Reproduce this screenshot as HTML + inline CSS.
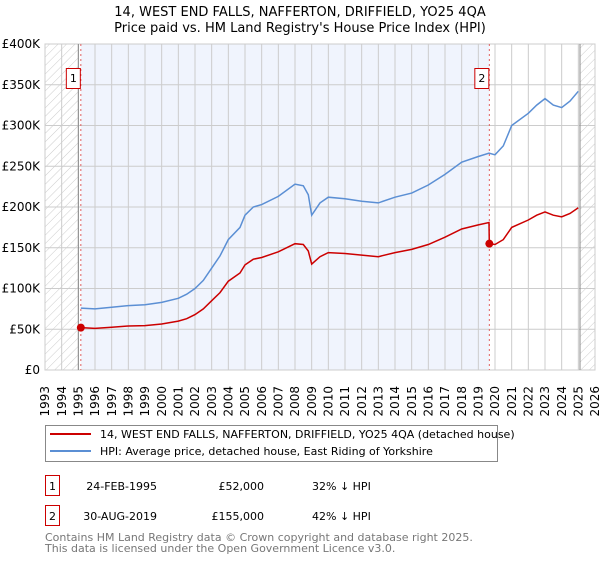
<!DOCTYPE html>
<html><head><meta charset="utf-8"><style>
body{margin:0;background:#fff;font-family:"DejaVu Sans","Liberation Sans",sans-serif;}
svg text{font-family:"DejaVu Sans","Liberation Sans",sans-serif;}
</style></head><body>
<svg id="chart" width="600" height="560" xmlns="http://www.w3.org/2000/svg">
<defs>
<pattern id="hatch" width="6" height="6" patternUnits="userSpaceOnUse" patternTransform="rotate(45)">
<line x1="0" y1="0" x2="0" y2="6" stroke="#ccc" stroke-width="1"/>
</pattern>
</defs>
<text x="300" y="16" text-anchor="middle" font-size="13" fill="#000">14, WEST END FALLS, NAFFERTON, DRIFFIELD, YO25 4QA</text>
<text x="300" y="32" text-anchor="middle" font-size="13" fill="#000">Price paid vs. HM Land Registry's House Price Index (HPI)</text>
<g id="plot"></g>
<g>
<rect x="45.5" y="425.5" width="452" height="36" fill="#fff" stroke="#888"/>
<line x1="50" y1="434" x2="91" y2="434" stroke="#cc0000" stroke-width="2"/>
<text x="100" y="438" font-size="11">14, WEST END FALLS, NAFFERTON, DRIFFIELD, YO25 4QA (detached house)</text>
<line x1="50" y1="451" x2="91" y2="451" stroke="#5b8fd4" stroke-width="2"/>
<text x="100" y="455" font-size="11">HPI: Average price, detached house, East Riding of Yorkshire</text>
</g>
<g font-size="11">
<rect x="45.5" y="475.5" width="14" height="20" fill="#fff" stroke="#cc0000"/>
<text x="52.5" y="490" text-anchor="middle">1</text>
<text x="157" y="490" text-anchor="end">24-FEB-1995</text>
<text x="264" y="490" text-anchor="end">£52,000</text>
<text x="312" y="490">32% ↓ HPI</text>
<rect x="45.5" y="505.5" width="14" height="20" fill="#fff" stroke="#cc0000"/>
<text x="52.5" y="520" text-anchor="middle">2</text>
<text x="157" y="520" text-anchor="end">30-AUG-2019</text>
<text x="264" y="520" text-anchor="end">£155,000</text>
<text x="312" y="520">42% ↓ HPI</text>
</g>
<text x="45" y="541" font-size="11" fill="#777">Contains HM Land Registry data © Crown copyright and database right 2025.</text>
<text x="45" y="552" font-size="11" fill="#777">This data is licensed under the Open Government Licence v3.0.</text>
</svg>
<script>
const hpiYears=[1995.15,1996,1997,1998,1999,2000,2001,2001.5,2002,2002.5,2003,2003.5,2004,2004.7,2005,2005.5,2006,2007,2008,2008.5,2008.8,2009,2009.5,2010,2011,2012,2013,2014,2015,2016,2017,2018,2019,2019.64,2020,2020.5,2021,2022,2022.5,2023,2023.5,2024,2024.5,2025];
const hpiValues=[76,75,77,79,80,83,88,93,100,110,125,140,160,175,190,200,203,213,228,226,215,190,205,212,210,207,205,212,217,227,240,255,262,266,264,275,300,315,325,333,325,322,330,342];
const propYears=[1995.15,1996,1997,1998,1999,2000,2001,2001.5,2002,2002.5,2003,2003.5,2004,2004.7,2005,2005.5,2006,2007,2008,2008.5,2008.8,2009,2009.5,2010,2011,2012,2013,2014,2015,2016,2017,2018,2019,2019.64,2019.66,2020,2020.5,2021,2022,2022.5,2023,2023.5,2024,2024.5,2025];
const propValues=[52,51,52.5,54,54.5,56.5,60,63,68,75,85,95,109,119,129,136,138,145,155,154,146,130,139,144,143,141,139,144,148,154,163,173,178,181,155,154,160,175,184,190,194,190,188,192,199];
const saleYears=[1995.15,2019.66];
const saleValues=[52,155];
const saleLabels=["1","2"];
const yTicks=[0,50,100,150,200,250,300,350,400];
const yTickLabels=["£0","£50K","£100K","£150K","£200K","£250K","£300K","£350K","£400K"];
const xTicks=[1993,1994,1995,1996,1997,1998,1999,2000,2001,2002,2003,2004,2005,2006,2007,2008,2009,2010,2011,2012,2013,2014,2015,2016,2017,2018,2019,2020,2021,2022,2023,2024,2025,2026];

const X0=45,X1=595,Y0=370,Y1=44;
const xs=y=>X0+(y-1993)/(2026-1993)*(X1-X0);
const ys=v=>Y0-v/400*(Y0-Y1);
const NS="http://www.w3.org/2000/svg";
const g=document.getElementById('plot');
function mk(t,a){const e=document.createElementNS(NS,t);for(const k in a)e.setAttribute(k,a[k]);g.appendChild(e);return e;}

let e;
e=mk('rect',{x:X0,y:Y1,width:X1-X0,height:Y0-Y1,fill:'#fff'});


e=mk('rect',{x:xs(saleYears[0]),y:Y1,width:xs(saleYears[1])-xs(saleYears[0]),height:Y0-Y1,fill:'#f0f4fd'});


e=mk('rect',{x:X0,y:Y1,width:xs(1995)-X0,height:Y0-Y1,fill:'url(#hatch)'});


e=mk('rect',{x:xs(2025.1),y:Y1,width:X1-xs(2025.1),height:Y0-Y1,fill:'url(#hatch)'});



xTicks.forEach(t=>{
  e=mk('line',{x1:xs(t),x2:xs(t),y1:Y1,y2:Y0,stroke:'#ccc','stroke-width':1});
  
  
  e=mk('text',{x:xs(t),y:386,'font-size':12,'text-anchor':'end',transform:`rotate(-90 ${xs(t)} 386)`,dy:'0.35em'});
  e.textContent=t;
  
  
});
yTicks.forEach((t,i)=>{
  e=mk('line',{x1:X0,x2:X1,y1:ys(t),y2:ys(t),stroke:'#ccc','stroke-width':1});
  
  
  e=mk('text',{x:40,y:ys(t)+4,'font-size':12,'text-anchor':'end'});
  e.textContent=yTickLabels[i];
  
  
});
e=mk('rect',{x:X0,y:Y1,width:X1-X0,height:Y0-Y1,fill:'none',stroke:'#ccc'});


[1995,2025.1].forEach(t=>{
  e=mk('line',{x1:xs(t),x2:xs(t),y1:Y1,y2:Y0,stroke:'#888','stroke-width':1});
  
  
});
saleYears.forEach((t,i)=>{
  e=mk('line',{x1:xs(t),x2:xs(t),y1:Y1,y2:Y0,stroke:'#e06060','stroke-width':1,'stroke-dasharray':'2,3'});
  
  
});
const pts=(xa,va)=>xa.map((x,i)=>xs(x).toFixed(1)+','+ys(va[i]).toFixed(1)).join(' ');
e=mk('polyline',{points:pts(hpiYears,hpiValues),fill:'none',stroke:'#5b8fd4','stroke-width':1.5});


e=mk('polyline',{points:pts(propYears,propValues),fill:'none',stroke:'#cc0000','stroke-width':1.5});


saleYears.forEach((t,i)=>{
  e=mk('circle',{cx:xs(t),cy:ys(saleValues[i]),r:4,fill:'#cc0000'});
  
  
  const bx=xs(t)-15;
  e=mk('rect',{x:bx+0.5,y:68.5,width:14,height:20,fill:'#fff',stroke:'#cc0000'});
  
  
  e=mk('text',{x:bx+7.5,y:82,'font-size':11,'text-anchor':'middle'});
  e.textContent=saleLabels[i];
  
  
});
</script>
</body></html>
